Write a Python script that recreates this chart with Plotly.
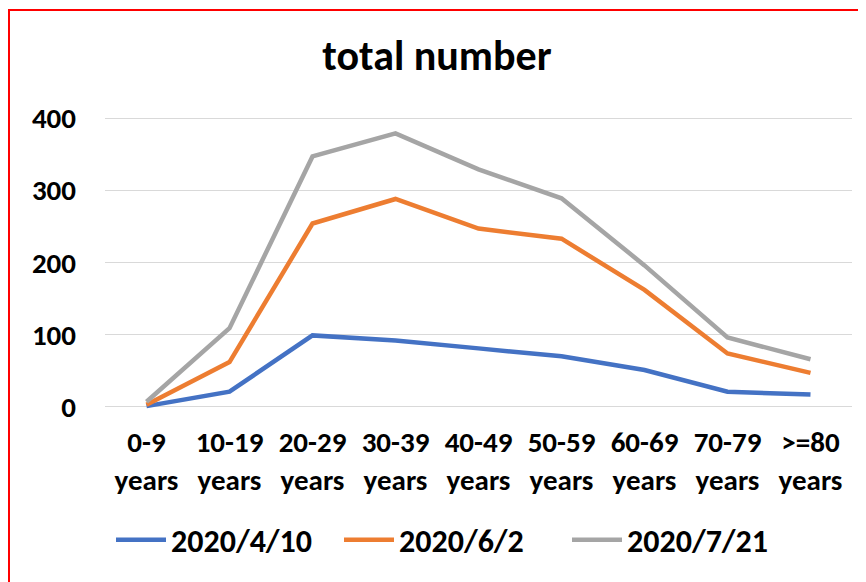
import plotly.graph_objects as go

categories = ["0-9<br>years", "10-19<br>years", "20-29<br>years", "30-39<br>years",
              "40-49<br>years", "50-59<br>years", "60-69<br>years", "70-79<br>years",
              ">=80<br>years"]
s_0410 = [1, 21, 99, 92, 81, 70, 51, 21, 17]
s_0602 = [3, 62, 254, 288, 247, 233, 162, 74, 47]
s_0721 = [7, 109, 347, 379, 329, 289, 196, 96, 66]
series_names = ["2020/4/10", "2020/6/2", "2020/7/21"]
colors = ["#4472C4", "#ED7D31", "#A5A5A5"]
yticks = [0, 100, 200, 300, 400]

FONT = "Carlito, 'Liberation Sans Narrow', 'DejaVu Sans Condensed', 'Noto Sans', sans-serif"

fig = go.Figure()
for name, vals, c in zip(series_names, [s_0410, s_0602, s_0721], colors):
    fig.add_trace(go.Scatter(x=categories, y=vals, name=name, mode="lines",
                             line=dict(color=c, width=4.5)))

OFF = 8  # page body margin
W, H = 866, 582
L, R, T, B = 97, 22, 108, 181
pw, ph = W - L - R, H - T - B

def px_x(x):
    return (x - OFF - L) / pw

def px_y(y):
    return (H - B - (y - OFF)) / ph

fig.update_layout(
    width=W, height=H,
    margin=dict(l=L, r=R, t=T, b=B, autoexpand=False),
    paper_bgcolor="white", plot_bgcolor="white",
    font=dict(family=FONT, color="black", size=29, weight="bold"),
    title=dict(text="total number", x=(437 - OFF) / W, xanchor="center",
               y=1 - (55 - OFF) / H, yanchor="middle",
               font=dict(size=42, family=FONT, weight="bold")),
    showlegend=True,
    legend=dict(orientation="h", x=px_x(111), xanchor="left", y=px_y(540), yanchor="middle",
                font=dict(size=32, family=FONT, weight="bold"), itemwidth=50,
                entrywidth=163, traceorder="normal"),
    shapes=[dict(type="rect", xref="paper", yref="paper",
                 x0=px_x(9), x1=px_x(885), y0=px_y(600), y1=px_y(10),
                 line=dict(color="#FF0000", width=2), layer="below")],
)
fig.update_xaxes(range=[-0.5, 8.5], showgrid=False, showline=False, ticks="",
                 tickfont=dict(size=29, family=FONT, weight="bold"),
                 ticklabelstandoff=13, automargin=False)
fig.update_yaxes(range=[-3, 403], tickvals=yticks, showgrid=True, gridcolor="#D9D9D9",
                 gridwidth=1, zeroline=True, zerolinecolor="#D9D9D9", zerolinewidth=1,
                 showline=False, ticks="", tickfont=dict(size=29, family=FONT, weight="bold"),
                 ticklabelstandoff=28, automargin=False)

fig.write_html("out.html")
